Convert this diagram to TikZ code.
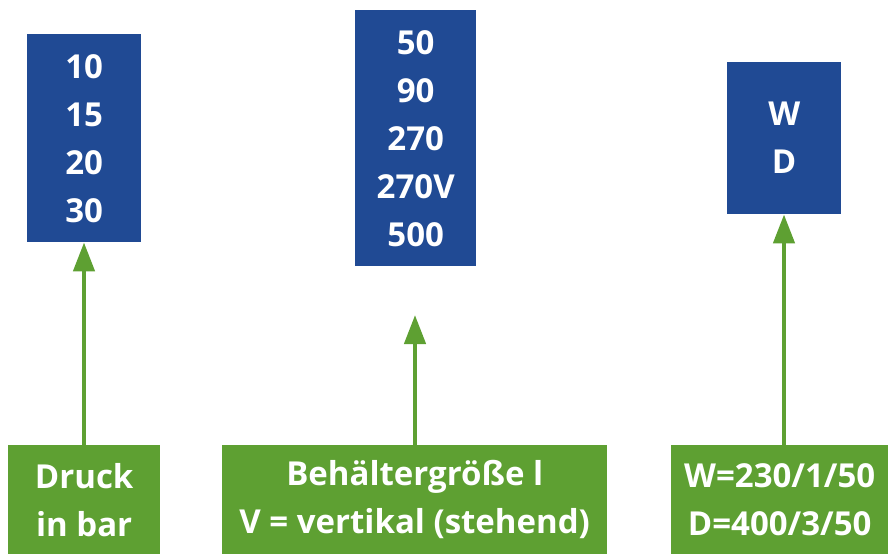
\documentclass[tikz,border=0pt]{standalone}
\usepackage{fontspec}
\setmainfont{Open Sans}[BoldFont={* Bold}]
\usetikzlibrary{arrows.meta}
\definecolor{boxblue}{RGB}{32,74,148}
\definecolor{boxgreen}{RGB}{94,160,50}
\tikzset{
  bluebox/.style={fill=boxblue, text=white, anchor=north west, inner sep=0pt, align=center,
    font=\fontsize{33}{48}\selectfont\bfseries},
  greenbox/.style={fill=boxgreen, text=white, anchor=north west, inner sep=0pt, align=center,
    font=\fontsize{33}{48}\selectfont\bfseries},
  uparrow/.style={draw=boxgreen, line width=4.5pt, -{Triangle[length=29pt,width=21pt]}}
}
\begin{document}
\begin{tikzpicture}[x=1pt,y=-1pt]
\useasboundingbox (0,0) rectangle (888,554);
% blue boxes
\node[bluebox, minimum width=114pt, minimum height=208pt] (b1) at (27,34) {10\\15\\20\\30};
\node[bluebox, minimum width=121pt, minimum height=256pt] (b2) at (355,10) {50\\90\\270\\270V\\500};
\node[bluebox, minimum width=114pt, minimum height=152pt] (b3) at (727,62) {W\\D};
% green boxes
\node[greenbox, minimum width=152pt, minimum height=109pt] (g1) at (8,445) {Druck\\in bar};
\node[greenbox, minimum width=385pt, minimum height=109pt] (g2) at (222,445) {Behältergröße l\\V = vertikal (stehend)};
\node[greenbox, minimum width=217pt, minimum height=109pt] (g3) at (671,445) {W=230/1/50\\D=400/3/50};
% arrows
\coordinate (t2) at (415,315);
\draw[uparrow] (g1.north -| 84,0) -- (b1.south -| 84,0);
\draw[uparrow] (g2.north -| t2) -- (t2);
\draw[uparrow] (g3.north -| 784,0) -- (b3.south -| 784,0);
\end{tikzpicture}
\end{document}
